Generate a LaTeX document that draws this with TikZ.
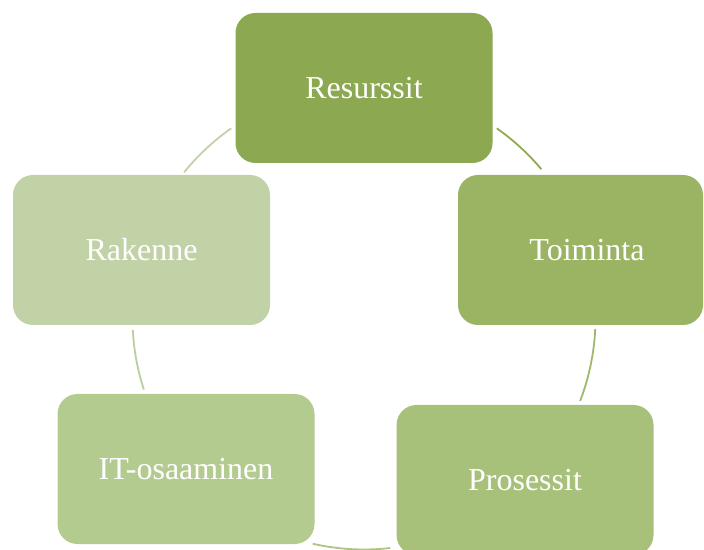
\documentclass[tikz,border=0pt]{standalone}
\usepackage{fontspec}
\setmainfont{Liberation Serif}
\definecolor{cA}{HTML}{8CA850}
\definecolor{cB}{HTML}{9BB464}
\definecolor{cC}{HTML}{A7C17A}
\definecolor{cD}{HTML}{B4CB90}
\definecolor{cE}{HTML}{C2D2A7}
\begin{document}
\begin{tikzpicture}[x=1pt,y=1pt,
  box/.style={rounded corners=20pt, minimum width=257pt, minimum height=150pt, inner sep=0pt, text=white, font=\fontsize{32}{36}\selectfont},
  label/.style={text=white, font=\fontsize{32}{36}\selectfont, inner sep=0pt},
  ring/.style={line width=1.8pt}]
\useasboundingbox (0,0) rectangle (704,549);
\coordinate (c) at (364,231);
% arcs
\draw[ring, color=cA!90!cB] (c) ++(55:231.5) arc[start angle=55, end angle=40, radius=231.5];
\draw[ring, color=cB!70!cC] (c) ++(-2.7:231.5) arc[start angle=-2.7, end angle=-21, radius=231.5];
\draw[ring, color=cC!60!cD] (c) ++(-83.5:231.5) arc[start angle=-83.5, end angle=-102.8, radius=231.5];
\draw[ring, color=cD!50!cE] (c) ++(198:231.5) arc[start angle=198, end angle=183, radius=231.5];
\draw[ring, color=cE] (c) ++(141:231.5) arc[start angle=141, end angle=125, radius=231.5];
% boxes
\node[box, fill=cA] (res) at (364,461) {Resurssit};
\fill[cB, rounded corners=20pt] (458,224) rectangle (703,374);
\node[label] (toi) at (587,299) {Toiminta};
\node[box, fill=cC] (pro) at (525,69) {Prosessit};
\node[box, fill=cD] (it) at (186,80) {IT-osaaminen};
\node[box, fill=cE] (rak) at (141.5,299) {Rakenne};
\end{tikzpicture}
\end{document}
